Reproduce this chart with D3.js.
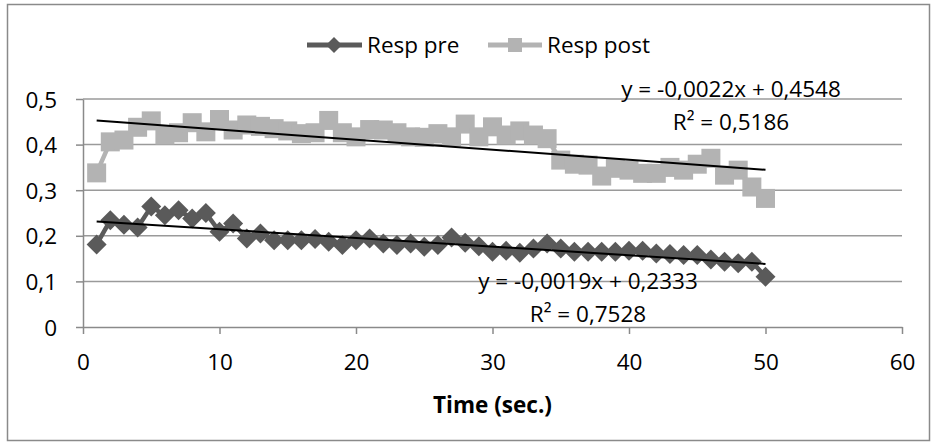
<!DOCTYPE html>
<html><head><meta charset="utf-8">
<script src="https://cdn.jsdelivr.net/npm/d3@7"></script>
<style>
html,body{margin:0;padding:0;background:#fff;}
svg{display:block;font-family:"Open Sans",sans-serif;}
</style></head><body>
<svg id="chart" width="933" height="448"></svg>
<script>
const time = [1,2,3,4,5,6,7,8,9,10,11,12,13,14,15,16,17,18,19,20,21,22,23,24,25,26,27,28,29,30,31,32,33,34,35,36,37,38,39,40,41,42,43,44,45,46,47,48,49,50];
const respPre = [0.181,0.234,0.224,0.218,0.264,0.245,0.256,0.238,0.250,0.209,0.227,0.194,0.205,0.190,0.190,
  0.190,0.193,0.187,0.180,0.190,0.194,0.183,0.180,0.183,0.176,0.180,0.196,0.185,0.177,0.165,
  0.167,0.163,0.172,0.183,0.172,0.165,0.165,0.165,0.165,0.167,0.167,0.161,0.160,0.158,0.158,0.148,0.143,0.140,0.143,0.110];
const respPost = [0.338,0.406,0.410,0.438,0.452,0.421,0.426,0.448,0.428,0.455,0.432,0.443,0.440,0.435,0.430,
  0.424,0.426,0.453,0.426,0.417,0.433,0.432,0.426,0.417,0.416,0.424,0.417,0.445,0.417,0.439,
  0.421,0.430,0.421,0.413,0.366,0.357,0.355,0.331,0.348,0.344,0.337,0.337,0.350,0.344,0.357,0.370,0.333,0.344,0.307,0.282];
const seriesNames = ["Resp pre","Resp post"];
const seriesColors = ["#5a5a5a","#b3b3b3"];
const trendPre = [-0.0019, 0.2333];
const trendPost = [-0.0022, 0.4548];
const trendLabelPre = ["y = -0,0019x + 0,2333","R² = 0,7528"];
const trendLabelPost = ["y = -0,0022x + 0,4548","R² = 0,5186"];
const xTicks = [0,10,20,30,40,50,60];
const xTickLabels = ["0","10","20","30","40","50","60"];
const yTicks = [0,0.1,0.2,0.3,0.4,0.5];
const yTickLabels = ["0","0,1","0,2","0,3","0,4","0,5"];
const xTitle = "Time (sec.)";

const FS = 22.5;
const svg = d3.select("#chart");
svg.append("rect").attr("x",7.5).attr("y",4.5).attr("width",922).attr("height",436)
  .attr("fill","#fff").attr("stroke","#8a8a8a").attr("stroke-width",1.5);

const x = d3.scaleLinear().domain([0,60]).range([83,902]);
const y = d3.scaleLinear().domain([0,0.5]).range([327,99]);

// gridlines
svg.append("g").selectAll("line").data(yTicks.filter(d=>d>0)).join("line")
  .attr("x1",x(0)).attr("x2",x(60)).attr("y1",d=>y(d)).attr("y2",d=>y(d))
  .attr("stroke","#9a9a9a").attr("stroke-width",1.5);

// axes
const yAxis = d3.axisLeft(y).tickValues(yTicks).tickFormat((d,i)=>yTickLabels[i])
  .tickSizeInner(7).tickSizeOuter(0).tickPadding(19);
const gy = svg.append("g").attr("transform",`translate(${x(0)},0)`).call(yAxis);
const xAxis = d3.axisBottom(x).tickValues(xTicks).tickFormat((d,i)=>xTickLabels[i])
  .tickSizeInner(7).tickSizeOuter(0);
const gx = svg.append("g").attr("transform",`translate(0,${y(0)})`).call(xAxis);
[gx,gy].forEach(g=>{
  g.select(".domain").attr("stroke","#8a8a8a").attr("stroke-width",1.5);
  g.selectAll(".tick line").attr("stroke","#8a8a8a").attr("stroke-width",1.5);
  g.selectAll(".tick text").attr("font-size",FS).attr("fill","#000").attr("font-family","Open Sans");
});
gx.selectAll(".tick text").attr("y",43).attr("dy",0);
gy.selectAll(".tick text").attr("dy",8);

// x title
svg.append("text").attr("x",(x(0)+x(60))/2).attr("y",413).attr("text-anchor","middle")
  .attr("font-size",FS).attr("font-weight","bold").text(xTitle);

const line = d3.line().x((d,i)=>x(time[i])).y(d=>y(d));
const diamond = r => `M0,${-r}L${r},0L0,${r}L${-r},0Z`;

function drawSeries(vals, color, type){
  svg.append("path").datum(vals).attr("d",line).attr("fill","none")
    .attr("stroke",color).attr("stroke-width",4.5).attr("stroke-linejoin","round");
  const g = svg.append("g");
  if(type==="diamond"){
    g.selectAll("path").data(vals).join("path")
      .attr("transform",(d,i)=>`translate(${x(time[i])},${y(d)})`)
      .attr("d",diamond(10)).attr("fill",color);
  } else {
    g.selectAll("rect").data(vals).join("rect")
      .attr("x",(d,i)=>x(time[i])-9.5).attr("y",d=>y(d)-9.5)
      .attr("width",19).attr("height",19).attr("fill",color);
  }
}
drawSeries(respPre, seriesColors[0], "diamond");
drawSeries(respPost, seriesColors[1], "square");

// trendlines
[trendPre,trendPost].forEach(t=>{
  const x0 = time[0], x1 = time[time.length-1];
  svg.append("line").attr("x1",x(x0)).attr("x2",x(x1))
    .attr("y1",y(t[0]*x0+t[1])).attr("y2",y(t[0]*x1+t[1]))
    .attr("stroke","#000").attr("stroke-width",2);
});

// trend labels
function trendLabel(lines, cx, cy){
  lines.forEach((s,i)=>{
    svg.append("text").attr("x",cx).attr("y",cy+i*33+8).attr("text-anchor","middle")
      .attr("font-size",FS).attr("fill","#000").text(s);
  });
}
trendLabel(trendLabelPost, 731, 89);
trendLabel(trendLabelPre, 588, 281);

// legend
const lg = svg.append("g");
const ly = 45;
lg.append("line").attr("x1",307).attr("x2",362).attr("y1",ly).attr("y2",ly)
  .attr("stroke",seriesColors[0]).attr("stroke-width",5);
lg.append("path").attr("transform",`translate(334,${ly})`).attr("d",diamond(8)).attr("fill",seriesColors[0]);
lg.append("text").attr("x",367).attr("y",ly+8).attr("font-size",FS).text(seriesNames[0]);
lg.append("line").attr("x1",488).attr("x2",542).attr("y1",ly).attr("y2",ly)
  .attr("stroke",seriesColors[1]).attr("stroke-width",5);
lg.append("rect").attr("x",515-7).attr("y",ly-7).attr("width",14).attr("height",14).attr("fill",seriesColors[1]);
lg.append("text").attr("x",547).attr("y",ly+8).attr("font-size",FS).text(seriesNames[1]);
</script>
</body></html>
